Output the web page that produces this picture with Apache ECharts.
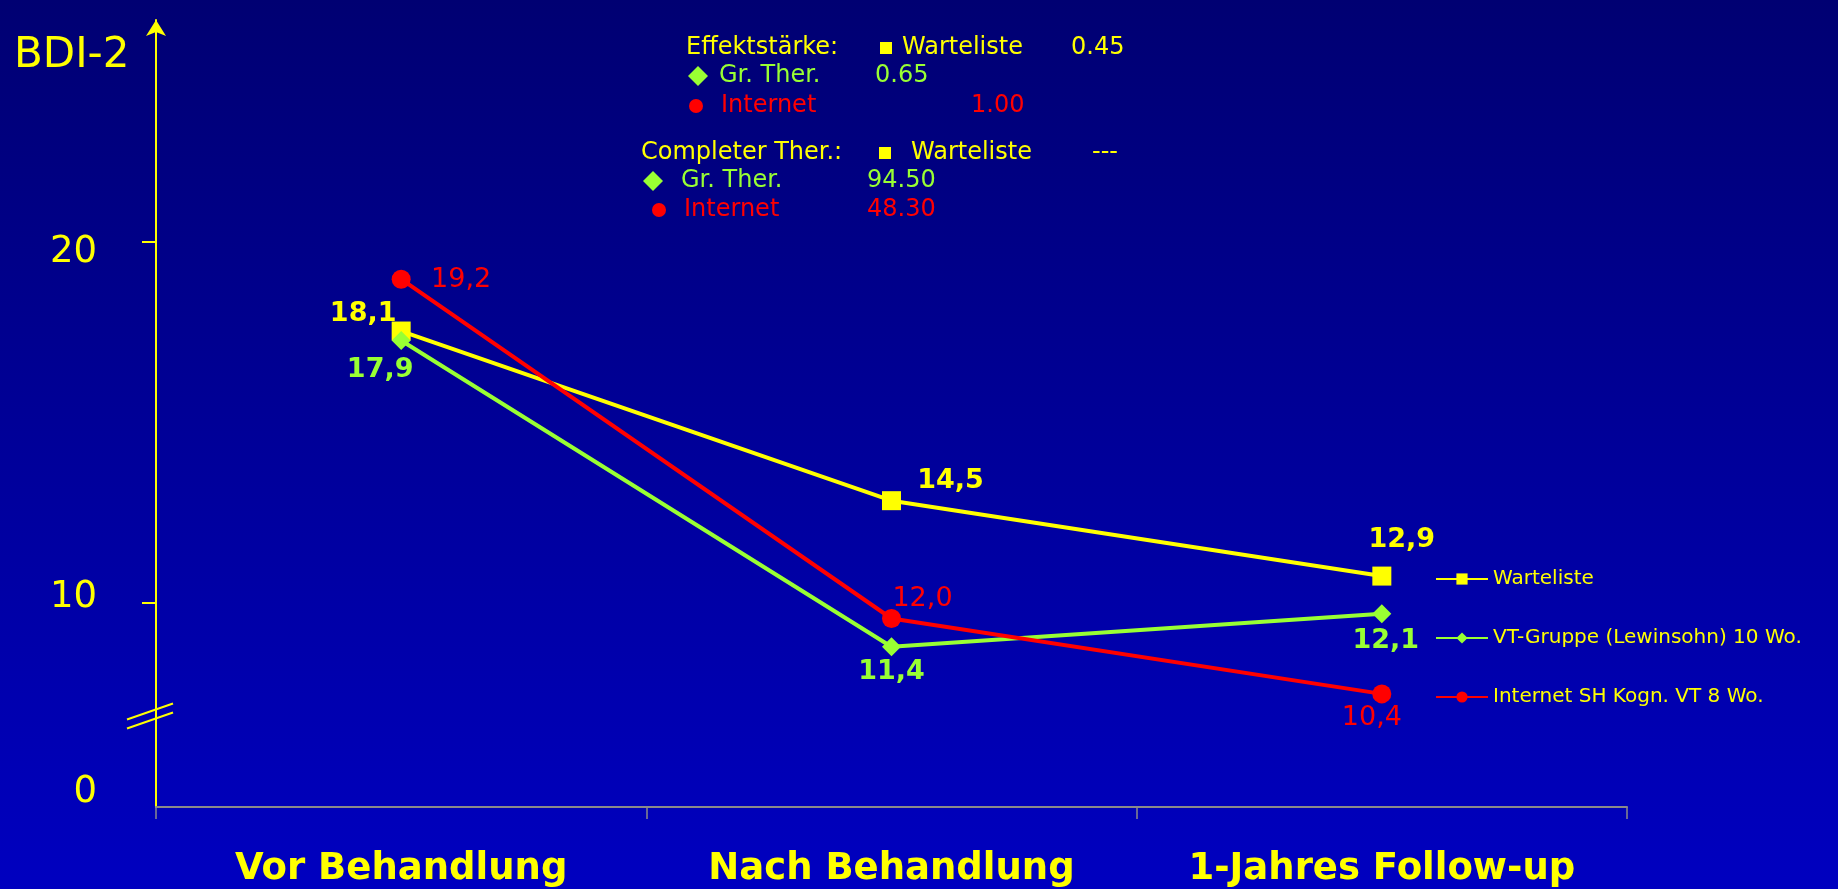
<!DOCTYPE html>
<html><head><meta charset="utf-8">
<script src="https://cdn.jsdelivr.net/npm/echarts@6/dist/echarts.min.js"></script>
<style>html,body{margin:0;padding:0;width:1838px;height:889px;overflow:hidden;background:#000090}#c{width:1838px;height:889px}</style>
</head><body><div id="c"></div>
<script>
// ---- data ----
const categories = ['Vor Behandlung', 'Nach Behandlung', '1-Jahres Follow-up'];
const seriesNames = ['Warteliste', 'VT-Gruppe (Lewinsohn) 10 Wo.', 'Internet SH Kogn. VT 8 Wo.'];
const warteliste = [18.1, 14.5, 12.9];
const gruppe = [17.9, 11.4, 12.1];
const internet = [19.2, 12.0, 10.4];
// axis (broken axis as drawn in the original)
const yTickValues = [12.33, 20];
const yLabelValues = [8.32, 12.44, 19.77];
const yLabelTexts = ['0', '10', '20'];
const yAxisTitle = 'BDI-2';
// annotation block
const effectTitle = 'Effektstärke:';
const completerTitle = 'Completer Ther.:';
const groupLabels = ['Warteliste', 'Gr. Ther.', 'Internet'];
const effectSizes = ['0.45', '0.65', '1.00'];
const completerValues = ['---', '94.50', '48.30'];

// ---- styles ----
const YEL = '#FFFF00', GRN = '#99FF33', RED = '#FF0000';
const FONT = '"DejaVu Sans", Verdana, sans-serif';
const offW = [[-38, -17], [59, -20], [20, -36]];
const offG = [[-21, 30], [0, 25], [4, 27]];
const offR = [[60, 1], [31, -20], [-10, 24]];
const fmt = v => v.toFixed(1).replace('.', ',');

function mkData(vals, offs) {
  return vals.map((v, i) => ({ value: v, label: { offset: offs[i] } }));
}
function lbl(color, weight) {
  return { show: true, position: 'inside', color: color, fontSize: 27, fontWeight: weight,
    fontFamily: FONT, formatter: p => fmt(p.value) };
}

const chart = echarts.init(document.getElementById('c'), null, { renderer: 'canvas' });

const annot = [];
function txt(x, y, s, color) {
  annot.push({ type: 'text', x: x, y: y, z: 10,
    style: { text: s, fill: color, font: '24px ' + FONT, verticalAlign: 'middle' } });
}
function sq(cx, cy, color) {
  annot.push({ type: 'rect', z: 10, shape: { x: cx - 6, y: cy - 6, width: 12, height: 12 }, style: { fill: color } });
}
function dia(cx, cy, color) {
  annot.push({ type: 'polygon', z: 10, shape: { points: [[cx, cy - 10], [cx + 10, cy], [cx, cy + 10], [cx - 10, cy]] }, style: { fill: color } });
}
function cir(cx, cy, color) {
  annot.push({ type: 'circle', z: 10, shape: { cx: cx, cy: cy, r: 7 }, style: { fill: color } });
}
txt(686, 48, effectTitle, YEL); sq(886, 48, YEL); txt(902, 48, groupLabels[0], YEL); txt(1071, 48, effectSizes[0], YEL);
dia(698, 76, GRN); txt(719, 76, groupLabels[1], GRN); txt(875, 76, effectSizes[1], GRN);
cir(696, 106, RED); txt(721, 106, groupLabels[2], RED); txt(971, 106, effectSizes[2], RED);
txt(641, 153, completerTitle, YEL); sq(885, 153, YEL); txt(911, 153, groupLabels[0], YEL); txt(1092, 153, completerValues[0], YEL);
dia(653, 181, GRN); txt(681, 181, groupLabels[1], GRN); txt(867, 181, completerValues[1], GRN);
cir(659, 210, RED); txt(684, 210, groupLabels[2], RED); txt(867, 210, completerValues[2], RED);
annot.push({ type: 'text', x: 14, y: 56, z: 10,
  style: { text: yAxisTitle, fill: YEL, font: '42px ' + FONT, verticalAlign: 'middle' } });

const option = {
  animation: false,
  backgroundColor: { type: 'linear', x: 0, y: 0, x2: 0, y2: 1,
    colorStops: [{ offset: 0, color: '#000072' }, { offset: 1, color: '#0000C0' }] },
  grid: { left: 156, right: 211, top: 20, bottom: 82, containLabel: false },
  legend: {
    orient: 'vertical', left: 1430, top: 562, itemWidth: 52, itemHeight: 14, itemGap: 35,
    textStyle: { color: YEL, fontSize: 20, fontFamily: FONT, lineHeight: 24 },
    lineStyle: { width: 2 },
    data: seriesNames
  },
  xAxis: {
    type: 'category', data: categories, boundaryGap: true,
    axisLine: { lineStyle: { color: '#8a8a8a', width: 2 } },
    axisTick: { show: true, interval: 0, length: 12, lineStyle: { color: '#8a8a8a', width: 1.5 } },
    axisLabel: { interval: 0, color: YEL, fontSize: 37, fontWeight: 'bold', fontFamily: FONT, margin: 44 },
    splitLine: { show: false }
  },
  yAxis: {
    type: 'value', min: 8, max: 24.7,
    axisLine: { show: true, lineStyle: { color: YEL, width: 2 }, symbol: ['none', 'arrow'], symbolSize: [15, 16] },
    axisTick: { show: true, length: 14, customValues: yTickValues, lineStyle: { color: YEL, width: 2 } },
    axisLabel: { color: YEL, fontSize: 37, fontFamily: FONT, margin: 59, customValues: yLabelValues,
      formatter: v => {
        let bi = 0, bd = 1e9;
        yLabelValues.forEach((t, i) => { const d = Math.abs(t - v); if (d < bd) { bd = d; bi = i; } });
        return yLabelTexts[bi];
      } },
    splitLine: { show: false }
  },
  series: [
    { name: seriesNames[0], type: 'line', data: mkData(warteliste, offW), color: YEL,
      symbol: 'rect', symbolSize: 19, lineStyle: { width: 4, color: YEL }, itemStyle: { color: YEL },
      label: lbl(YEL, 'bold'), z: 3 },
    { name: seriesNames[1], type: 'line', data: mkData(gruppe, offG), color: GRN,
      symbol: 'diamond', symbolSize: 19, lineStyle: { width: 4, color: GRN }, itemStyle: { color: GRN },
      label: lbl(GRN, 'bold'), z: 3 },
    { name: seriesNames[2], type: 'line', data: mkData(internet, offR), color: RED,
      symbol: 'circle', symbolSize: 19, lineStyle: { width: 4, color: RED }, itemStyle: { color: RED },
      label: lbl(RED, 'normal'), z: 3 }
  ],
  graphic: annot
};
chart.setOption(option);

// axis-break marks on the y axis
const by = chart.convertToPixel({ yAxisIndex: 0 }, 9.9);
const ax = 156;
chart.setOption({ graphic: annot.concat([
  { type: 'line', z: 10, shape: { x1: ax - 29, y1: by + 2, x2: ax + 17, y2: by - 14 }, style: { stroke: YEL, lineWidth: 2 } },
  { type: 'line', z: 10, shape: { x1: ax - 29, y1: by + 11, x2: ax + 17, y2: by - 5 }, style: { stroke: YEL, lineWidth: 2 } }
]) });
</script>
</body></html>
